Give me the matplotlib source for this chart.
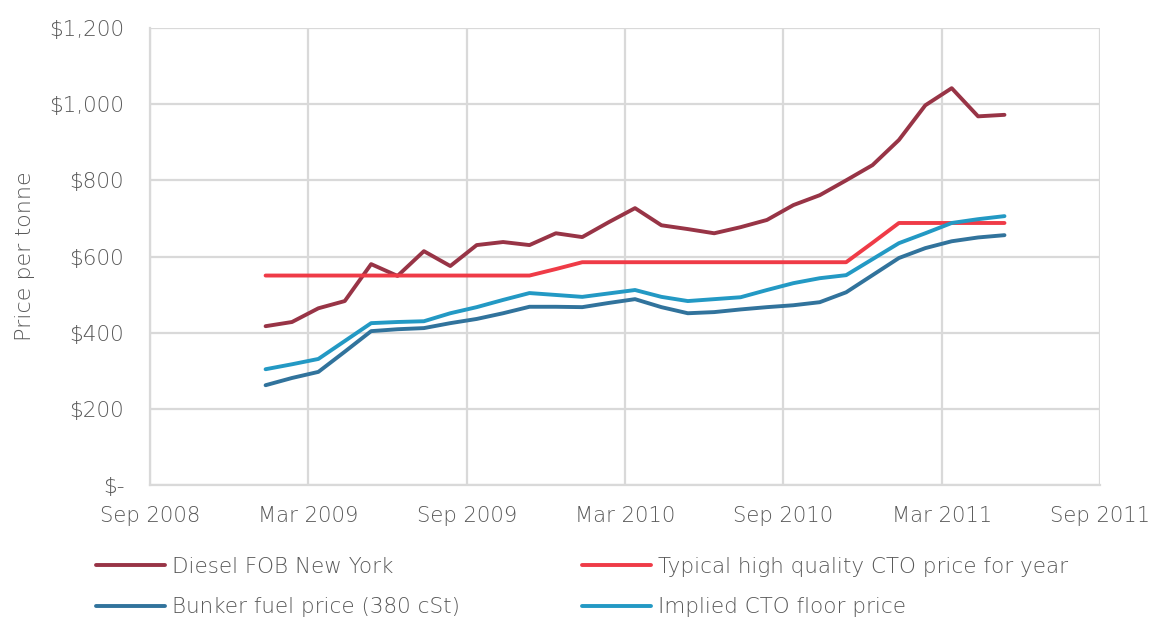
import matplotlib
matplotlib.use("Agg")
import matplotlib.pyplot as plt

plt.rcParams['font.family'] = ['DejaVu Sans']
plt.rcParams['font.weight'] = 'light'

# x positions: months since Sep 2008 (monthly observations, Jan 2009 - May 2011)
month_labels = ["Jan 2009", "Feb 2009", "Mar 2009", "Apr 2009", "May 2009", "Jun 2009",
                "Jul 2009", "Aug 2009", "Sep 2009", "Oct 2009", "Nov 2009", "Dec 2009",
                "Jan 2010", "Feb 2010", "Mar 2010", "Apr 2010", "May 2010", "Jun 2010",
                "Jul 2010", "Aug 2010", "Sep 2010", "Oct 2010", "Nov 2010", "Dec 2010",
                "Jan 2011", "Feb 2011", "Mar 2011", "Apr 2011", "May 2011"]

diesel = [417, 428, 464, 483, 580, 549, 614, 575, 630, 638, 630, 661, 651, 690, 727,
          682, 672, 661, 677, 696, 735, 761, 800, 840, 906, 997, 1042, 968, 972]
cto_typical = [550, 550, 550, 550, 550, 550, 550, 550, 550, 550, 550, 567, 585, 585, 585,
               585, 585, 585, 585, 585, 585, 585, 585, 636, 688, 688, 688, 688, 688]
bunker = [262, 281, 297, 350, 404, 409, 412, 425, 436, 451, 468, 468, 467, 478, 488,
          467, 451, 454, 461, 467, 472, 480, 506, 551, 596, 622, 640, 650, 656]
cto_floor = [304, 317, 331, 378, 425, 428, 430, 451, 467, 486, 504, 499, 494, 503, 512,
             494, 483, 488, 493, 512, 530, 543, 551, 593, 635, 661, 688, 698, 706]

series_names = ["Diesel FOB New York", "Typical high quality CTO price for year",
                "Bunker fuel price (380 cSt)", "Implied CTO floor price"]
colors = ["#983446", "#EF3B47", "#31739C", "#2399C4"]

xtick_labels = ["Sep 2008", "Mar 2009", "Sep 2009", "Mar 2010", "Sep 2010", "Mar 2011", "Sep 2011"]
ytick_vals = [0, 200, 400, 600, 800, 1000, 1200]
ytick_labels = ["$-", "$200", "$400", "$600", "$800", "$1,000", "$1,200"]

MONTHS = {m: i for i, m in enumerate(["Jan", "Feb", "Mar", "Apr", "May", "Jun",
                                      "Jul", "Aug", "Sep", "Oct", "Nov", "Dec"])}

def month_pos(label, day_frac=0.0):
    m, y = label.split()
    return (int(y) - 2008) * 12 + MONTHS[m] - 8 + day_frac

x = [month_pos(m, 0.38) for m in month_labels]
xticks = [month_pos(t) for t in xtick_labels]

fig = plt.figure(figsize=(11.5, 6.17), dpi=100)
ax = fig.add_axes([150/1150, 1-485/617, 950/1150, 457/617])

text_color = "#595959"
grid_color = "#D9D9D9"

lines = {}
for name, vals, c in zip(series_names, [diesel, cto_typical, bunker, cto_floor], colors):
    ln, = ax.plot(x, vals, color=c, lw=2.8, label=name, solid_capstyle='round', zorder=3)
    lines[name] = ln

ax.set_xlim(xticks[0], xticks[-1])
ax.set_ylim(0, 1200)
ax.set_xticks(xticks)
ax.set_xticklabels(xtick_labels)
ax.set_yticks(ytick_vals)
ax.set_yticklabels(ytick_labels)
ax.grid(True, color=grid_color, lw=1.6, zorder=0)
ax.set_axisbelow(True)
for s in ["top", "right"]:
    ax.spines[s].set_visible(False)
for s in ["left", "bottom"]:
    ax.spines[s].set_color(grid_color)
    ax.spines[s].set_linewidth(1.6)
ax.tick_params(axis='both', length=0, labelcolor=text_color)
ax.tick_params(axis='x', pad=15, labelsize=15.2)
ax.tick_params(axis='y', pad=18.5, labelsize=15.5)
ax.set_ylabel("Price per tonne", fontsize=16, color=text_color, labelpad=10,
              fontweight='light')

leg_kw = dict(frameon=False, fontsize=15.5, handlelength=3.2, handletextpad=0.35,
              labelspacing=0.95, borderpad=0, borderaxespad=0, labelcolor=text_color)
l1 = fig.legend([lines[series_names[0]], lines[series_names[2]]],
                [series_names[0], series_names[2]],
                loc="upper left", bbox_to_anchor=(96/1150, 1-557/617), **leg_kw)
l2 = fig.legend([lines[series_names[1]], lines[series_names[3]]],
                [series_names[1], series_names[3]],
                loc="upper left", bbox_to_anchor=(582/1150, 1-557/617), **leg_kw)

fig.savefig("out.png", dpi=100)
